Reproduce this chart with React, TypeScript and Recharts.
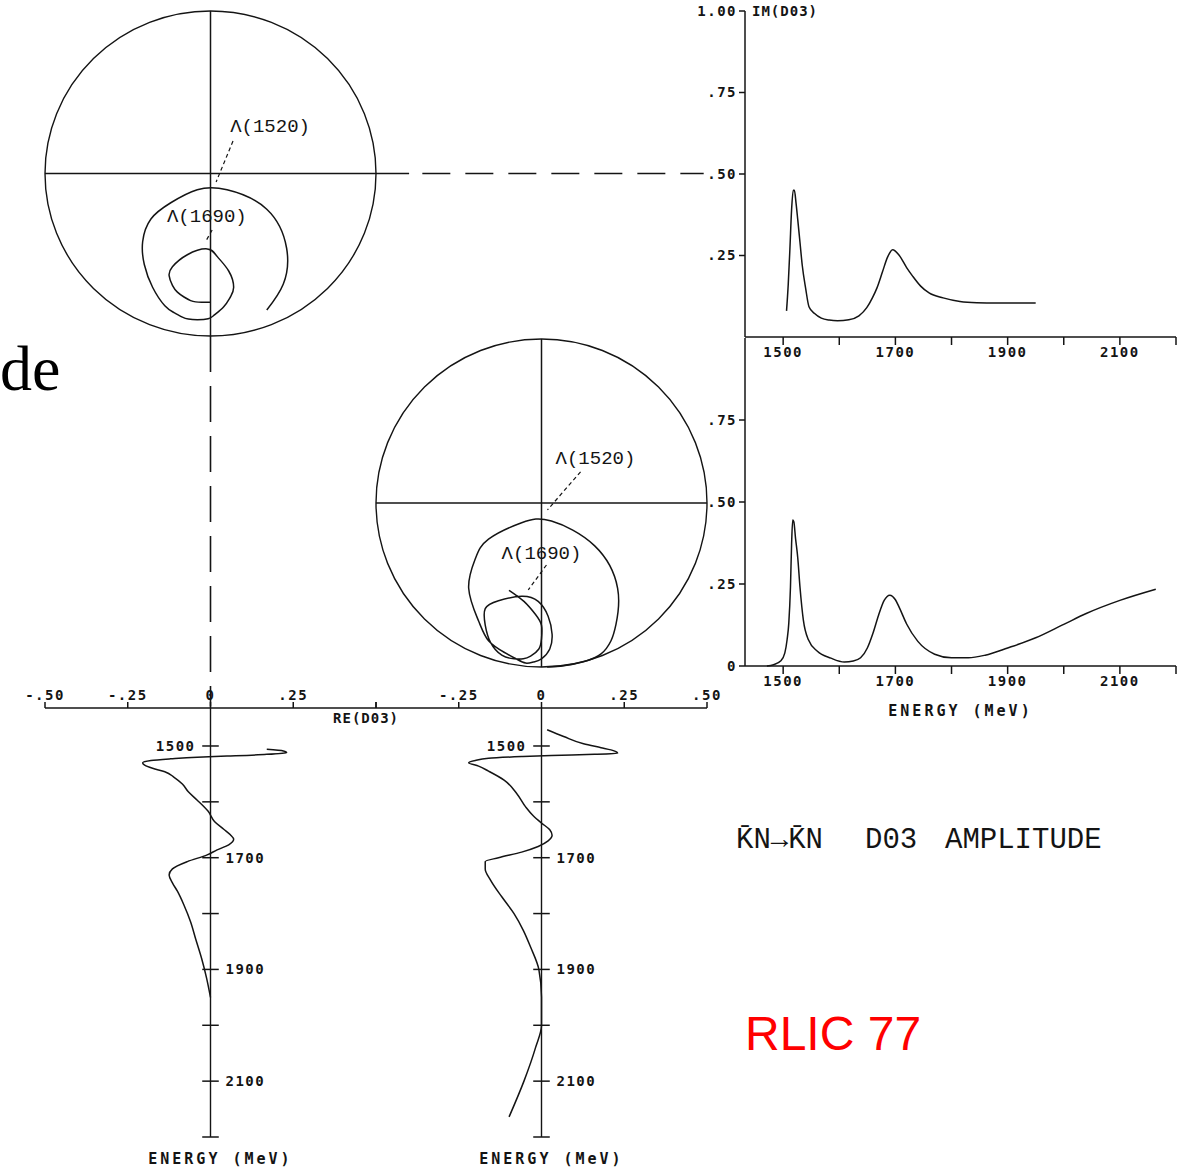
import React from "react";
import {
  LineChart,
  Line,
  XAxis,
  YAxis,
  ReferenceLine,
  ReferenceDot,
} from "recharts";

// upper solution: energy (MeV), Re and Im of the D03 amplitude
const energyUpper = [
  1506, 1509, 1512, 1515, 1518, 1520, 1523, 1526, 1530, 1534, 1540, 1546,
  1556, 1568, 1582, 1597, 1617, 1635, 1649, 1659, 1667, 1677, 1686, 1695,
  1707, 1720, 1731, 1745, 1760, 1785, 1815, 1845, 1880, 1915, 1950,
];
const reUpper = [
  0.17, 0.22, 0.23, 0.17, 0.05, -0.04, -0.12, -0.18, -0.205, -0.2, -0.175,
  -0.138, -0.11, -0.085, -0.067, -0.04, -0.007, 0.012, 0.04, 0.06, 0.07,
  0.055, 0.02, -0.01, -0.07, -0.115, -0.125, -0.115, -0.1, -0.08, -0.06,
  -0.045, -0.027, -0.012, 0.0,
];
const imUpper = [
  0.08, 0.16, 0.27, 0.39, 0.45, 0.45, 0.41, 0.36, 0.29, 0.22, 0.15, 0.093,
  0.072, 0.058, 0.052, 0.05, 0.053, 0.065, 0.09, 0.12, 0.15, 0.2, 0.245,
  0.268, 0.25, 0.213, 0.186, 0.156, 0.135, 0.12, 0.109, 0.105, 0.104, 0.104,
  0.104,
];

// lower solution
const energyLower = [
  1471, 1483, 1496, 1503, 1507, 1510, 1513, 1515, 1517, 1519, 1522, 1526,
  1530, 1536, 1545, 1561, 1585, 1609, 1625, 1638, 1650, 1660, 1670, 1680,
  1690, 1700, 1707, 1720, 1740, 1770, 1800, 1830, 1860, 1900, 1950, 2000,
  2040, 2100, 2164,
];
const reLower = [
  0.017, 0.067, 0.127, 0.18, 0.21, 0.225, 0.23, 0.16, 0.03, -0.06, -0.16,
  -0.2, -0.22, -0.19, -0.16, -0.113, -0.075, -0.048, -0.025, 0.0, 0.025,
  0.032, 0.02, -0.01, -0.06, -0.13, -0.17, -0.17, -0.154, -0.12, -0.083,
  -0.055, -0.033, -0.008, 0.0, 0.0, -0.018, -0.053, -0.098,
];
const imLower = [
  0.0, 0.004, 0.016, 0.04, 0.08, 0.13, 0.24, 0.37, 0.445, 0.44, 0.39, 0.33,
  0.24, 0.14, 0.08, 0.045, 0.024, 0.012, 0.015, 0.025, 0.055, 0.1, 0.155, 0.2,
  0.216, 0.202, 0.178, 0.128, 0.075, 0.036, 0.025, 0.025, 0.033, 0.055, 0.086,
  0.127, 0.16, 0.2, 0.234,
];

const energyTicks = [1500, 1600, 1700, 1800, 1900, 2000, 2100, 2200];
const energyLabels = [1500, 1700, 1900, 2100];
const reTicks = [-0.5, -0.25, 0, 0.25, 0.5];
const imTicksUpper = [0.25, 0.5, 0.75, 1];
const imTicksLower = [0, 0.25, 0.5, 0.75];

type Row = { e: number; re: number; im: number };

const upper: Row[] = energyUpper.map((e, i) => ({ e, re: reUpper[i], im: imUpper[i] }));
const lower: Row[] = energyLower.map((e, i) => ({ e, re: reLower[i], im: imLower[i] }));

const INK = "#141414";
const MONO = "'DejaVu Sans Mono', 'Liberation Mono', monospace";
const TYPE = "'Liberation Mono', 'DejaVu Sans Mono', monospace";
const tickFont = {
  fontFamily: MONO,
  fontSize: 14,
  fontWeight: 700,
  fill: INK,
  letterSpacing: 1.5,
};
const E_DOMAIN: [number, number] = [1432, 2200];

const fmtRe = (skip: number) => (v: number) => {
  if (v === skip) return "";
  if (v === 0) return "0";
  const digits = String(Math.round(Math.abs(v) * 100)).padStart(2, "0");
  return (v < 0 ? "-." : ".") + digits;
};
const fmtIm = (v: number) =>
  v === 0 ? "0" : v === 1 ? "1.00" : "." + String(Math.round(v * 100));
const fmtE = (v: number) => (energyLabels.includes(v) ? String(v) : "");

type Note = { text: string; at: [number, number]; from: [number, number]; to: [number, number] };

function Argand({
  rows,
  left,
  top,
  width,
  height,
  margin,
  notes,
  children,
}: {
  rows: Row[];
  left: number;
  top: number;
  width: number;
  height: number;
  margin: { top: number; right: number; bottom: number; left: number };
  notes: Note[];
  children?: React.ReactNode;
}) {
  const plotW = width - margin.left - margin.right;
  const plotH = height - margin.top - margin.bottom;
  return (
    <div style={{ position: "absolute", left, top }}>
      <LineChart width={width} height={height} data={rows} margin={margin}>
        <XAxis type="number" dataKey="re" domain={[-0.5, 0.5]} hide />
        <YAxis type="number" domain={[0, 1]} hide />
        {/* unitarity circle */}
        <ReferenceDot
          x={0}
          y={0.5}
          r={1}
          ifOverflow="visible"
          shape={(p: any) => (
            <ellipse
              cx={p.cx}
              cy={p.cy}
              rx={plotW / 2}
              ry={plotH / 2}
              fill="none"
              stroke={INK}
              strokeWidth={1.4}
            />
          )}
        />
        <ReferenceLine x={0} stroke={INK} strokeWidth={1.5} />
        {children}
        {notes.map((n) => (
          <ReferenceLine
            key={n.text + "-lead"}
            segment={[
              { x: n.from[0], y: n.from[1] },
              { x: n.to[0], y: n.to[1] },
            ]}
            stroke={INK}
            strokeWidth={1.2}
            strokeDasharray="4 3"
            ifOverflow="visible"
          />
        ))}
        {notes.map((n) => (
          <ReferenceDot
            key={n.text}
            x={n.at[0]}
            y={n.at[1]}
            r={0}
            fill="none"
            stroke="none"
            ifOverflow="visible"
            label={{
              value: n.text,
              position: "center",
              fontFamily: TYPE,
              fontSize: 19,
              fill: INK,
            }}
          />
        ))}
        <Line
          dataKey="im"
          type="natural"
          dot={false}
          stroke={INK}
          strokeWidth={1.5}
          isAnimationActive={false}
        />
      </LineChart>
    </div>
  );
}

function ImPanel({
  rows,
  top,
  height,
  marginTop,
  axisHeight,
  yTicks,
  title,
}: {
  rows: Row[];
  top: number;
  height: number;
  marginTop: number;
  axisHeight: number;
  yTicks: number[];
  title?: string;
}) {
  return (
    <div style={{ position: "absolute", left: 690, top }}>
      <LineChart
        width={499}
        height={height}
        data={rows}
        margin={{ top: marginTop, right: 13, bottom: 0, left: 0 }}
      >
        <XAxis
          type="number"
          dataKey="e"
          domain={E_DOMAIN}
          ticks={energyTicks}
          interval={0}
          tickFormatter={fmtE}
          height={axisHeight}
          tickSize={8}
          tick={tickFont}
          stroke={INK}
          strokeWidth={1.5}
          label={
            title
              ? {
                  value: title,
                  position: "insideBottom",
                  offset: 14,
                  fontFamily: MONO,
                  fontSize: 15,
                  fontWeight: 700,
                  letterSpacing: 3,
                  fill: INK,
                }
              : undefined
          }
        />
        <YAxis
          type="number"
          domain={[0, 1]}
          ticks={yTicks}
          interval={0}
          tickFormatter={fmtIm}
          width={55}
          tickSize={6}
          tick={tickFont}
          stroke={INK}
          strokeWidth={1.5}
        />
        {!title && (
          <ReferenceDot
            x={1432}
            y={1}
            r={0}
            fill="none"
            stroke="none"
            ifOverflow="visible"
            label={{
              value: "IM(D03)",
              position: "right",
              offset: 7,
              ...tickFont,
              letterSpacing: 1,
            }}
          />
        )}
        <Line
          dataKey="im"
          type="monotone"
          dot={false}
          stroke={INK}
          strokeWidth={1.5}
          isAnimationActive={false}
        />
      </LineChart>
    </div>
  );
}

function RePanel({
  rows,
  left,
  marginLeft,
  skip,
  showReTitle,
}: {
  rows: Row[];
  left: number;
  marginLeft: number;
  skip: number;
  showReTitle?: boolean;
}) {
  const width = 420;
  return (
    <div style={{ position: "absolute", left, top: 680 }}>
      <LineChart
        layout="vertical"
        width={width}
        height={492}
        data={rows}
        margin={{ top: 0, right: width - marginLeft - 331, bottom: 35, left: marginLeft }}
      >
        <XAxis
          type="number"
          orientation="top"
          domain={[-0.5, 0.5]}
          ticks={reTicks}
          interval={0}
          tickFormatter={fmtRe(skip)}
          height={28}
          tickSize={6}
          tick={tickFont}
          stroke={INK}
          strokeWidth={1.5}
        />
        {/* energy grows downward in this layout */}
        <YAxis type="number" dataKey="e" domain={E_DOMAIN} hide />
        <ReferenceLine x={0} stroke={INK} strokeWidth={1.4} />
        {energyTicks.map((t) => (
          <ReferenceLine
            key={t}
            segment={[
              { x: -0.025, y: t },
              { x: 0.025, y: t },
            ]}
            stroke={INK}
            strokeWidth={1.5}
          />
        ))}
        {energyLabels.map((t) => (
          <ReferenceDot
            key={"l" + t}
            x={0}
            y={t}
            r={0}
            fill="none"
            stroke="none"
            label={{
              value: String(t),
              position: t === 1500 ? "left" : "right",
              offset: 15,
              ...tickFont,
            }}
          />
        ))}
        <ReferenceDot
          x={0.03}
          y={2200}
          r={0}
          fill="none"
          stroke="none"
          ifOverflow="visible"
          label={{
            value: "ENERGY (MeV)",
            position: "bottom",
            offset: 16,
            fontFamily: MONO,
            fontSize: 15,
            fontWeight: 700,
            letterSpacing: 3,
            fill: INK,
          }}
        />
        {showReTitle && (
          <ReferenceDot
            x={0.47}
            y={1450}
            r={0}
            fill="none"
            stroke="none"
            ifOverflow="visible"
            label={{ value: "RE(D03)", position: "center", ...tickFont, letterSpacing: 1 }}
          />
        )}
        <Line
          dataKey="re"
          type="monotone"
          dot={false}
          stroke={INK}
          strokeWidth={1.5}
          isAnimationActive={false}
        />
      </LineChart>
    </div>
  );
}

export default function App() {
  return (
    <div style={{ position: "relative", width: 1189, height: 1172, background: "#fff", overflow: "hidden" }}>
      <style>{"body{margin:0}"}</style>

      <ImPanel rows={upper} top={0} height={380} marginTop={11} axisHeight={43} yTicks={imTicksUpper} />
      <ImPanel
        rows={lower}
        top={330}
        height={400}
        marginTop={8}
        axisHeight={64}
        yTicks={imTicksLower}
        title="ENERGY (MeV)"
      />

      <RePanel rows={upper} left={0} marginLeft={45} skip={0.5} showReTitle />
      <RePanel rows={lower} left={360} marginLeft={16} skip={-0.5} />

      <Argand
        rows={upper}
        left={0}
        top={0}
        width={760}
        height={720}
        margin={{ top: 11, right: 384, bottom: 384, left: 45 }}
        notes={[
          { text: "Λ(1520)", at: [0.18, 0.649], from: [0.068, 0.6], to: [0.017, 0.474] },
          { text: "Λ(1690)", at: [-0.011, 0.372], from: [0.005, 0.326], to: [-0.014, 0.292] },
        ]}
      >
        <ReferenceLine
          segment={[
            { x: -0.5, y: 0.5 },
            { x: 0.6, y: 0.5 },
          ]}
          stroke={INK}
          strokeWidth={1.4}
          ifOverflow="visible"
        />
        {/* link to the .50 level of the Im plot */}
        <ReferenceLine
          segment={[
            { x: 0.64, y: 0.5 },
            { x: 1.49, y: 0.5 },
          ]}
          stroke={INK}
          strokeWidth={1.6}
          strokeDasharray="28 15"
          ifOverflow="visible"
        />
        {/* link down to the Re axis */}
        <ReferenceLine
          segment={[
            { x: 0, y: 0 },
            { x: 0, y: -1.14 },
          ]}
          stroke={INK}
          strokeWidth={1.6}
          strokeDasharray="36 14"
          ifOverflow="visible"
        />
      </Argand>

      <Argand
        rows={lower}
        left={370}
        top={330}
        width={345}
        height={345}
        margin={{ top: 9, right: 8, bottom: 8, left: 6 }}
        notes={[
          { text: "Λ(1520)", at: [0.163, 0.64], from: [0.118, 0.595], to: [0.018, 0.479] },
          { text: "Λ(1690)", at: [0, 0.35], from: [0.015, 0.311], to: [-0.04, 0.235] },
        ]}
      >
        <ReferenceLine
          segment={[
            { x: -0.5, y: 0.5 },
            { x: 0.5, y: 0.5 },
          ]}
          stroke={INK}
          strokeWidth={1.4}
          ifOverflow="visible"
        />
      </Argand>

      <svg
        width={1189}
        height={1172}
        style={{ position: "absolute", left: 0, top: 0, pointerEvents: "none" }}
      >
        <text x={0} y={390} fontFamily="'Liberation Serif', serif" fontSize={64} fill="#000">
          de
        </text>
        <text fontFamily={TYPE} fontSize={29} fill={INK} y={848}>
          <tspan x={736}>K̄N→K̄N</tspan>
          <tspan x={865}>D03</tspan>
          <tspan x={945}>AMPLITUDE</tspan>
        </text>
        <text x={745} y={1050} fontFamily="'Liberation Sans', Arial, sans-serif" fontSize={48} fill="#ff0000">
          RLIC 77
        </text>
      </svg>
    </div>
  );
}
